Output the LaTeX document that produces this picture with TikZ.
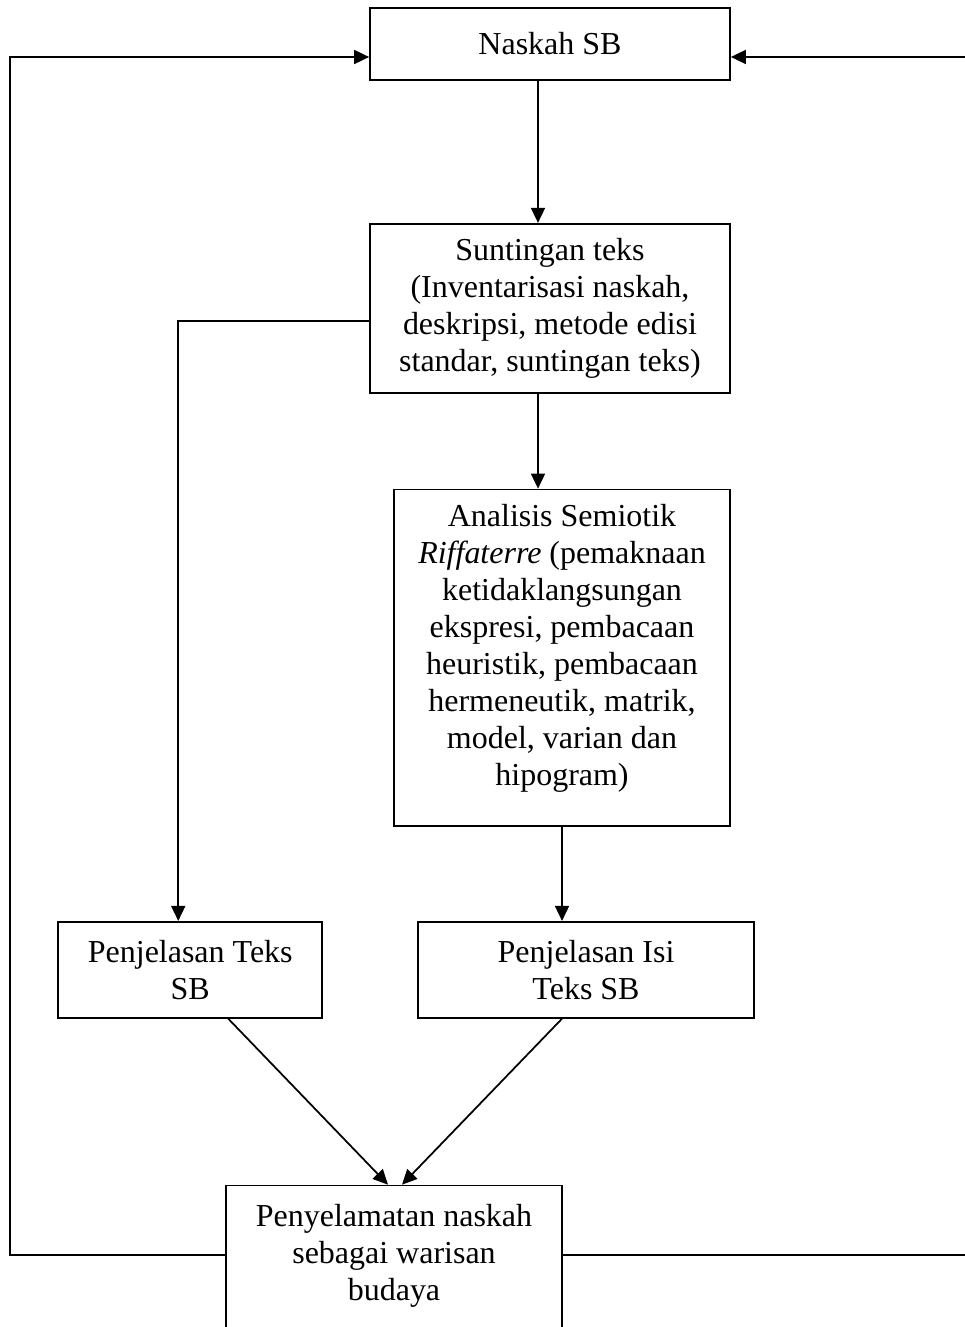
\documentclass[tikz,border=0pt]{standalone}
\usepackage{fontspec}
\setmainfont{Liberation Serif}
\usetikzlibrary{arrows.meta, positioning}
\tikzstyle{box}   = [rectangle, draw=black, line width=1pt, inner sep=0pt,
                     align=center, font=\fontsize{18.2}{21}\selectfont]
\tikzstyle{arrow} = [-{Triangle[length=0.3cm, width=0.28cm]}, line width=1pt]

\begin{document}
\begin{tikzpicture}
    \useasboundingbox (0,0) rectangle (19.28,-26.54);

    \node (naskah) [box, minimum width=7.2cm, minimum height=1.44cm] at (11.0,-0.88) {Naskah SB};
    \node (sunting) [box, below=2.84cm of naskah, minimum width=7.2cm, minimum height=3.38cm]
        {Suntingan teks\\(Inventarisasi naskah,\\deskripsi, metode edisi\\standar, suntingan teks)};
    \node (analisis) [box, below=1.9cm of sunting, xshift=0.24cm, minimum width=6.72cm, inner ysep=0.3cm, text depth=0.52cm]
        {Analisis Semiotik\\\textit{Riffaterre} (pemaknaan\\ketidaklangsungan\\ekspresi, pembacaan\\heuristik, pembacaan\\hermeneutik, matrik,\\model, varian dan\\hipogram)};
    \node (pteks) [box, below left=1.88cm and 1.40cm of analisis, minimum width=5.28cm, minimum height=1.92cm]
        {Penjelasan Teks\\SB};
    \node (pisi) [box, below=1.88cm of analisis, xshift=0.48cm, minimum width=6.72cm, minimum height=1.92cm]
        {Penjelasan Isi\\Teks SB};
    \node (selamat) [box, below=3.32cm of pisi, xshift=-3.84cm, minimum width=6.72cm, inner ysep=0.38cm, text depth=2.6cm]
        {Penyelamatan naskah\\sebagai warisan\\budaya};

    \coordinate (kiri) at (0.2,-1.14);
    \coordinate (kanan) at (19.4,-1.14);

    \draw[arrow] ([xshift=-0.24cm]naskah.south) -- ([xshift=-0.24cm]sunting.north);
    \draw[arrow] ([yshift=-0.25cm]sunting.west) -| ([xshift=-0.24cm]pteks.north);
    \draw[arrow] ([xshift=-0.24cm]sunting.south) -- ([xshift=-0.24cm]sunting.south |- analisis.north);
    \draw[arrow] (analisis.south) -- (analisis.south |- pisi.north);
    \draw[arrow] ([xshift=0.76cm]pteks.south) -- ([xshift=-0.12cm]selamat.north);
    \draw[arrow] ([xshift=-0.48cm]pisi.south) -- ([xshift=0.16cm]selamat.north);
    \draw[arrow] ([yshift=-1.4cm]selamat.north west) -| (kiri) -- ([yshift=-0.26cm]naskah.west);
    \draw[arrow] ([yshift=-1.4cm]selamat.north east) -| (kanan) -- ([yshift=-0.26cm]naskah.east);
\end{tikzpicture}
\end{document}
